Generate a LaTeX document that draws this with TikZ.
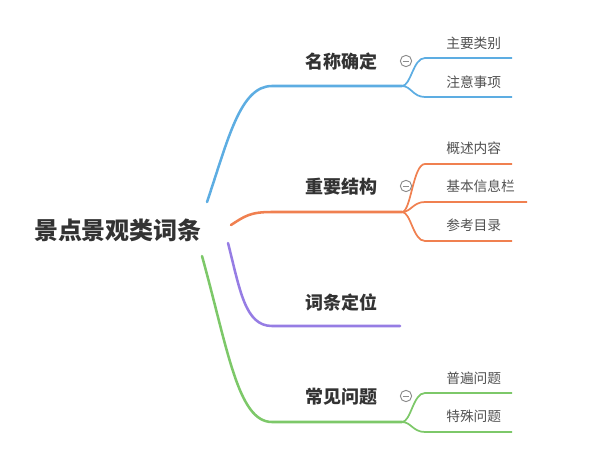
\documentclass[tikz,border=0pt]{standalone}
\usepackage{fontspec}
\setmainfont{Noto Sans CJK SC}
\definecolor{cblue}{RGB}{93,173,226}
\definecolor{corange}{RGB}{240,128,80}
\definecolor{cpurple}{RGB}{150,125,228}
\definecolor{cgreen}{RGB}{125,200,105}
\definecolor{ctext}{RGB}{51,51,51}
\definecolor{csub}{RGB}{80,80,80}
\definecolor{cfold}{RGB}{140,140,140}
\begin{document}
\begin{tikzpicture}[x=0.75pt,y=-0.75pt,
  rootlabel/.style={inner sep=0pt, font=\bfseries\fontsize{18}{20}\selectfont, text=ctext},
  mainlabel/.style={inner sep=0pt, anchor=west, font=\bfseries\fontsize{13.5}{16}\selectfont, text=ctext},
  sublabel/.style={inner sep=0pt, anchor=west, font=\fontsize{10.3}{12}\selectfont, text=csub},
  branch/.style={line width=1.9pt, line cap=round},
  subbranch/.style={line width=1.3pt},
  fold/.style={circle, draw=cfold, line width=0.7pt, minimum size=8.5pt, inner sep=0pt,
    path picture={\draw[cfold,line width=0.7pt] ([xshift=-2.6pt]path picture bounding box.center) -- ([xshift=2.6pt]path picture bounding box.center);}}]
\useasboundingbox (0,0) rectangle (597,460);

% root
\node[rootlabel] (root) at (118,230) {景点景观类词条};

% ---------- blue ----------
\coordinate (b0) at (207,202);
\coordinate (bk) at (272,86);
\coordinate (bj) at (402,86);
\coordinate (b1s) at (425,58);  \coordinate (b1e) at (512,58);
\coordinate (b2s) at (425,97);  \coordinate (b2e) at (512,97);
\draw[branch,cblue] (b0) .. controls (228,140) and (240,86) .. (bk) -- (bj);
\draw[subbranch,cblue] (bj) .. controls (411,86) and (413,58) .. (b1s) -- (b1e);
\draw[subbranch,cblue] (bj) .. controls (411,86) and (413,97) .. (b2s) -- (b2e);
\node[mainlabel] (m1) at (305,62) {名称确定};
\node[fold] (f1) at (406,61) {};
\node[sublabel] (s11) at (446,43) {主要类别};
\node[sublabel] (s12) at (446,82) {注意事项};

% ---------- orange ----------
\coordinate (o0) at (231,225);
\coordinate (ok) at (272,212);
\coordinate (oj) at (402,212);
\coordinate (o1s) at (425,164); \coordinate (o1e) at (512,164);
\coordinate (o2s) at (425,202); \coordinate (o2e) at (527,202);
\coordinate (o3s) at (425,241); \coordinate (o3e) at (512,241);
\draw[branch,corange] (o0) .. controls (245,216) and (250,212) .. (ok) -- (oj);
\draw[subbranch,corange] (oj) .. controls (411,212) and (413,164) .. (o1s) -- (o1e);
\draw[subbranch,corange] (oj) .. controls (411,212) and (413,202) .. (o2s) -- (o2e);
\draw[subbranch,corange] (oj) .. controls (411,212) and (413,241) .. (o3s) -- (o3e);
\node[mainlabel] (m2) at (305,187) {重要结构};
\node[fold] (f2) at (406,186) {};
\node[sublabel] (s21) at (446,148) {概述内容};
\node[sublabel] (s22) at (446,186) {基本信息栏};
\node[sublabel] (s23) at (446,225) {参考目录};

% ---------- purple ----------
\coordinate (p0) at (228,243);
\coordinate (pk) at (272,326);
\coordinate (pe) at (400,326);
\draw[branch,cpurple] (p0) .. controls (240,290) and (245,326) .. (pk) -- (pe);
\node[mainlabel] (m3) at (305,302) {词条定位};

% ---------- green ----------
\coordinate (g0) at (202,256);
\coordinate (gk) at (272,422);
\coordinate (gj) at (402,422);
\coordinate (g1s) at (425,393); \coordinate (g1e) at (512,393);
\coordinate (g2s) at (425,432); \coordinate (g2e) at (512,432);
\draw[branch,cgreen] (g0) .. controls (228,350) and (238,422) .. (gk) -- (gj);
\draw[subbranch,cgreen] (gj) .. controls (411,422) and (413,393) .. (g1s) -- (g1e);
\draw[subbranch,cgreen] (gj) .. controls (411,422) and (413,432) .. (g2s) -- (g2e);
\node[mainlabel] (m4) at (305,397) {常见问题};
\node[fold] (f4) at (406,396) {};
\node[sublabel] (s41) at (446,378) {普遍问题};
\node[sublabel] (s42) at (446,416) {特殊问题};
\end{tikzpicture}
\end{document}
